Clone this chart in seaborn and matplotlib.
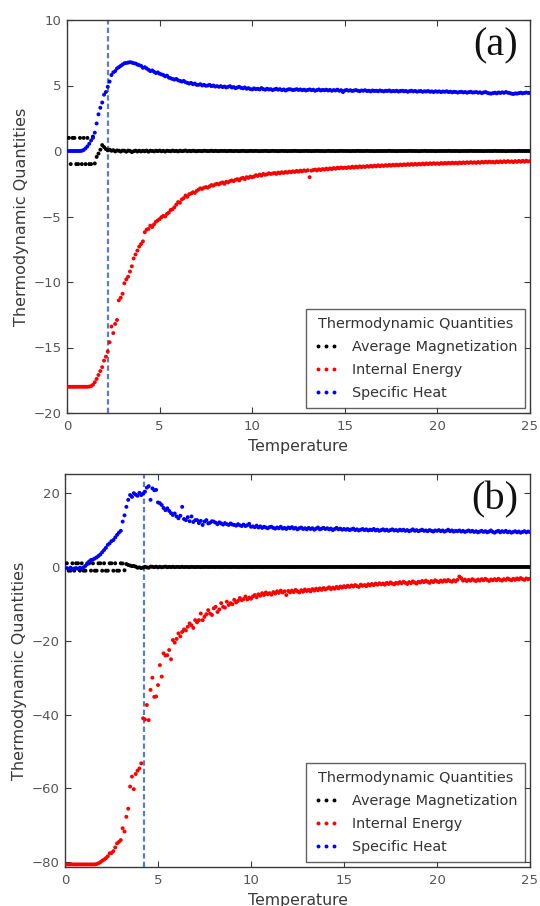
import numpy as np
import pandas as pd
import matplotlib
matplotlib.use("Agg")
import matplotlib.pyplot as plt
from matplotlib.lines import Line2D
import seaborn as sns

# ---------------- data ----------------
# temperature grid used by the simulation (0.1 .. 25.0, step 0.1)
temperature = np.round(np.arange(1, 251) * 0.1, 1)

quantities = ["Average Magnetization", "Internal Energy", "Specific Heat"]
colors = ["black", "red", "blue"]

# Panel (a)
mag_a = [
    1, -1, 1, 1, -1, -1, 1, -1, 1, -1,
    1, -1, -1, 1.1, -0.95, -0.45, -0.2, 0.1, 0.45, 0.3,
    0.15, 0.05, 0.1, 0.02, 0.06, -0.03, 0.04, 0.02, -0.04, 0.03,
    0.02, -0.05, 0.03, 0.01, -0.08, -0.02, 0.03, -0.04, 0.02, -0.03,
    0.01, -0.02, 0.03, -0.05, 0.02, 0.0, -0.03, 0.02, -0.01, 0.03,
    -0.02, 0.01, -0.04, 0.02, 0.0, -0.02, 0.03, -0.01, 0.01, -0.03,
    0.02, -0.01, 0.0, 0.04, -0.02, 0.01, -0.01, 0.02, 0.0, -0.02,
    0.01, 0.0, -0.01, 0.02, 0.01, -0.01, 0.0, 0.02, -0.01, 0.01,
    0.0, -0.01, 0.01, 0.0, 0.01, -0.01, 0.0, 0.01, 0.0, -0.01,
    0.01, 0.0, -0.01, 0.0, 0.01, 0.0, -0.01, 0.0, 0.01, 0.0,
    0.0, 0.01, 0.0, -0.01, 0.0, 0.0, 0.01, 0.0, -0.01, 0.0,
    0.01, 0.0, 0.0, -0.01, 0.0, 0.01, 0.0, 0.0, -0.01, 0.0,
    0.0, 0.0, 0.01, 0.0, 0.0, -0.01, 0.0, 0.0, 0.01, 0.0,
    0.0, -0.01, 0.0, 0.0, 0.01, 0.0, 0.0, 0.0, -0.01, 0.0,
    0.01, 0.0, 0.0, 0.0, -0.01, 0.0, 0.0, 0.01, 0.0, 0.0,
    0.0, 0.0, -0.01, 0.0, 0.0, 0.0, 0.01, 0.0, 0.0, 0.0,
    0.0, 0.01, 0.0, 0.0, 0.0, -0.01, 0.0, 0.0, 0.0, 0.0,
    0.0, 0.0, 0.0, 0.01, 0.0, 0.0, 0.0, -0.01, 0.0, 0.0,
    0.0, 0.0, 0.0, 0.0, 0.01, 0.0, 0.0, 0.0, 0.0, -0.01,
    0.0, 0.0, 0.01, 0.0, 0.0, 0.0, 0.0, 0.0, -0.01, 0.0,
    0.0, 0.0, 0.0, 0.0, 0.0, 0.01, 0.0, 0.0, 0.0, 0.0,
    0.0, -0.01, 0.0, 0.0, 0.0, 0.0, 0.0, 0.01, 0.0, 0.0,
    0.0, 0.0, 0.0, 0.0, -0.01, 0.0, 0.0, 0.0, 0.0, 0.0,
    0.01, 0.0, 0.0, 0.0, 0.0, 0.0, -0.01, 0.0, 0.0, 0.0,
    0.0, 0.0, 0.0, 0.01, 0.0, 0.0, 0.0, 0.0, 0.0, 0.0,
]
energy_a = [
    -18.0, -18.0, -18.0, -18.0, -18.0, -18.0, -18.0, -18.0, -18.0, -18.0,
    -18.0, -17.98, -17.95, -17.85, -17.65, -17.4, -17.1, -16.8, -16.5, -16.0,
    -15.7, -15.3, -14.6, -13.4, -13.9, -13.2, -12.9, -11.4, -11.2, -10.9,
    -10.1, -9.8, -9.6, -9.2, -8.8, -8.2, -7.9, -7.6, -7.3, -7.1,
    -6.9, -6.2, -6.0, -5.95, -5.7, -5.8, -5.6, -5.4, -5.3, -5.2,
    -5.05, -4.95, -5.0, -4.8, -4.7, -4.5, -4.45, -4.3, -4.1, -3.9,
    -3.95, -3.7, -3.6, -3.4, -3.5, -3.3, -3.25, -3.15, -3.2, -3.05,
    -2.95, -2.85, -2.9, -2.8, -2.75, -2.8, -2.7, -2.6, -2.65, -2.55,
    -2.5, -2.55, -2.45, -2.4, -2.5, -2.35, -2.4, -2.3, -2.25, -2.3,
    -2.2, -2.15, -2.25, -2.1, -2.05, -2.15, -2.0, -2.05, -1.95, -2.0,
    -1.95, -1.85, -1.9, -1.8, -1.88, -1.75, -1.82, -1.78, -1.7, -1.75,
    -1.72, -1.68, -1.75, -1.65, -1.7, -1.62, -1.68, -1.6, -1.65, -1.58,
    -1.62, -1.55, -1.6, -1.52, -1.58, -1.5, -1.55, -1.48, -1.52, -1.47,
    -2.0, -1.5, -1.45, -1.42, -1.48, -1.4, -1.45, -1.38, -1.42, -1.35,
    -1.4, -1.33, -1.38, -1.3, -1.35, -1.28, -1.32, -1.26, -1.3, -1.27,
    -1.3, -1.24, -1.28, -1.2, -1.27, -1.19, -1.25, -1.17, -1.23, -1.18,
    -1.22, -1.15, -1.2, -1.13, -1.19, -1.12, -1.17, -1.1, -1.16, -1.1,
    -1.14, -1.08, -1.13, -1.06, -1.12, -1.05, -1.1, -1.04, -1.09, -1.03,
    -1.08, -1.02, -1.07, -1.0, -1.06, -0.99, -1.05, -0.98, -1.04, -0.98,
    -1.03, -0.96, -1.02, -0.95, -1.0, -0.94, -0.99, -0.93, -0.98, -0.94,
    -0.99, -0.92, -0.97, -0.91, -0.96, -0.9, -0.95, -0.89, -0.94, -0.9,
    -0.95, -0.88, -0.93, -0.87, -0.92, -0.86, -0.91, -0.85, -0.9, -0.86,
    -0.91, -0.84, -0.9, -0.83, -0.88, -0.82, -0.87, -0.81, -0.86, -0.83,
    -0.88, -0.8, -0.86, -0.79, -0.85, -0.78, -0.84, -0.77, -0.83, -0.79,
    -0.85, -0.77, -0.83, -0.76, -0.82, -0.75, -0.81, -0.74, -0.8, -0.78,
]
heat_a = [
    0.0, 0.0, 0.0, 0.0, 0.0, 0.0, 0.0, 0.02, 0.08, 0.2,
    0.35, 0.55, 0.8, 1.0, 1.4, 2.1, 2.8, 3.3, 3.7, 4.3,
    4.5, 4.9, 5.3, 5.8, 6.0, 6.1, 6.3, 6.4, 6.5, 6.6,
    6.7, 6.72, 6.75, 6.78, 6.75, 6.7, 6.68, 6.6, 6.55, 6.5,
    6.35, 6.4, 6.3, 6.2, 6.1, 6.15, 6.05, 5.95, 6.0, 5.9,
    5.85, 5.8, 5.7, 5.75, 5.6, 5.55, 5.5, 5.45, 5.5, 5.4,
    5.35, 5.3, 5.35, 5.25, 5.2, 5.15, 5.2, 5.1, 5.15, 5.05,
    5.05, 5.1, 5.0, 5.05, 4.98, 5.0, 5.05, 4.95, 5.0, 4.92,
    4.95, 4.9, 4.95, 4.88, 4.92, 4.85, 4.9, 4.95, 4.85, 4.88,
    4.8, 4.85, 4.9, 4.82, 4.78, 4.85, 4.75, 4.8, 4.72, 4.7,
    4.78, 4.72, 4.75, 4.7, 4.8, 4.72, 4.68, 4.75, 4.7, 4.72,
    4.65, 4.7, 4.75, 4.68, 4.72, 4.65, 4.7, 4.62, 4.68, 4.72,
    4.7, 4.65, 4.68, 4.72, 4.66, 4.7, 4.64, 4.68, 4.62, 4.66,
    4.7, 4.64, 4.68, 4.6, 4.65, 4.7, 4.62, 4.66, 4.64, 4.68,
    4.62, 4.66, 4.6, 4.65, 4.62, 4.68, 4.6, 4.64, 4.5, 4.62,
    4.66, 4.6, 4.64, 4.58, 4.62, 4.65, 4.6, 4.57, 4.62, 4.6,
    4.64, 4.58, 4.6, 4.55, 4.62, 4.58, 4.6, 4.56, 4.62, 4.58,
    4.55, 4.6, 4.58, 4.62, 4.55, 4.58, 4.56, 4.6, 4.54, 4.58,
    4.6, 4.56, 4.58, 4.52, 4.57, 4.6, 4.55, 4.58, 4.53, 4.56,
    4.58, 4.52, 4.56, 4.54, 4.58, 4.52, 4.55, 4.5, 4.56, 4.52,
    4.55, 4.5, 4.54, 4.52, 4.56, 4.5, 4.53, 4.48, 4.52, 4.5,
    4.46, 4.5, 4.52, 4.47, 4.5, 4.45, 4.49, 4.52, 4.46, 4.48,
    4.5, 4.45, 4.48, 4.42, 4.47, 4.5, 4.44, 4.4, 4.38, 4.42,
    4.45, 4.4, 4.47, 4.43, 4.48, 4.44, 4.5, 4.45, 4.42, 4.38,
    4.35, 4.4, 4.38, 4.42, 4.45, 4.4, 4.43, 4.46, 4.44, 4.42,
]

# Panel (b)
mag_b = [
    1, -1, -1, 1, -1, 1, 1, -1, 1, -1,
    -1, 1, 1, -1, 1, -1, -1, 1, 1, -1,
    1, -1, -1, 1, 1, -1, 1, -1, -1, 1,
    0.95, -0.9, 0.8, 0.55, 0.4, 0.25, 0.3, 0.1, -0.2, -0.1,
    -0.3, -0.15, 0.05, -0.1, -0.2, 0.1, 0.05, -0.05, 0.08, -0.1,
    0.05, -0.08, 0.02, 0.1, -0.05, 0.03, -0.02, 0.06, -0.04, 0.02,
    0.0, -0.03, 0.05, -0.02, 0.02, 0.0, -0.04, 0.03, 0.01, -0.02,
    0.01, 0.0, -0.02, 0.01, 0.0, 0.02, -0.01, 0.0, 0.01, -0.01,
    0.0, 0.01, 0.0, -0.01, 0.0, 0.01, 0.0, 0.0, -0.01, 0.0,
    0.01, 0.0, 0.0, -0.01, 0.0, 0.0, 0.01, 0.0, 0.0, -0.01,
    0.0, 0.0, 0.01, 0.0, 0.0, -0.01, 0.0, 0.0, 0.0, 0.01,
    0.0, 0.0, 0.0, -0.01, 0.0, 0.0, 0.0, 0.01, 0.0, 0.0,
    0.0, -0.01, 0.0, 0.0, 0.0, 0.0, 0.01, 0.0, 0.0, 0.0,
    0.0, 0.0, 0.0, 0.01, 0.0, 0.0, 0.0, 0.0, -0.01, 0.0,
    0.0, 0.0, 0.0, 0.0, 0.0, 0.01, 0.0, 0.0, 0.0, 0.0,
    -0.01, 0.0, 0.0, 0.0, 0.0, 0.0, 0.0, 0.01, 0.0, 0.0,
    0.0, 0.0, 0.0, 0.0, -0.01, 0.0, 0.0, 0.0, 0.0, 0.0,
    0.0, 0.01, 0.0, 0.0, 0.0, 0.0, 0.0, 0.0, -0.01, 0.0,
    0.0, 0.0, 0.0, 0.0, 0.0, 0.0, 0.01, 0.0, 0.0, 0.0,
    0.0, 0.0, -0.01, 0.0, 0.0, 0.0, 0.0, 0.0, 0.0, 0.01,
    0.0, 0.0, 0.0, 0.0, 0.0, 0.0, 0.0, -0.01, 0.0, 0.0,
    0.0, 0.0, 0.0, 0.01, 0.0, 0.0, 0.0, 0.0, 0.0, 0.0,
    0.0, -0.01, 0.0, 0.0, 0.0, 0.0, 0.0, 0.0, 0.01, 0.0,
    0.0, 0.0, 0.0, 0.0, 0.0, -0.01, 0.0, 0.0, 0.0, 0.0,
    0.0, 0.0, 0.01, 0.0, 0.0, 0.0, 0.0, 0.0, 0.0, 0.0,
]
energy_b = [
    -80.6, -80.6, -80.6, -80.6, -80.6, -80.6, -80.6, -80.6, -80.6, -80.6,
    -80.6, -80.6, -80.6, -80.6, -80.6, -80.6, -80.5, -80.3, -80.0, -79.6,
    -79.3, -78.9, -78.4, -77.6, -77.5, -77.0, -76.0, -74.9, -74.5, -74.0,
    -70.8, -71.7, -67.7, -65.5, -59.5, -56.8, -60.2, -56.1, -55.2, -54.6,
    -53.2, -41.0, -41.3, -37.4, -41.5, -33.3, -30.0, -35.2, -35.1, -32.0,
    -26.6, -29.7, -23.4, -24.0, -23.9, -22.5, -25.0, -19.8, -20.5, -19.5,
    -18.0, -18.8, -17.6, -16.9, -17.2, -16.2, -15.3, -15.8, -16.5, -14.4,
    -15.0, -14.4, -12.6, -14.4, -13.5, -12.8, -11.7, -12.6, -13.0, -11.2,
    -10.8, -12.2, -11.5, -9.8, -10.8, -11.0, -9.4, -10.3, -9.8, -10.1,
    -8.9, -9.6, -9.2, -8.4, -9.0, -8.7, -8.0, -8.8, -8.3, -8.6,
    -8.0, -7.6, -8.2, -7.4, -7.8, -7.1, -7.6, -6.9, -7.4, -7.1,
    -7.5, -6.8, -7.2, -6.6, -7.0, -6.4, -6.9, -6.6, -7.6, -6.5,
    -6.9, -6.4, -6.8, -6.2, -6.6, -6.9, -6.3, -6.7, -6.1, -6.5,
    -6.2, -6.6, -6.0, -6.4, -5.9, -6.3, -5.8, -6.2, -5.7, -6.1,
    -5.8, -5.5, -6.0, -5.6, -5.9, -5.4, -5.8, -5.3, -5.6, -5.2,
    -5.5, -5.1, -5.4, -5.0, -5.3, -4.9, -5.2, -5.4, -4.8, -5.1,
    -4.9, -5.2, -4.7, -5.0, -4.6, -4.9, -4.5, -4.8, -4.4, -4.7,
    -4.5, -4.8, -4.3, -4.6, -4.2, -4.5, -4.7, -4.3, -4.5, -4.1,
    -4.4, -4.0, -4.3, -4.6, -4.1, -4.4, -3.9, -4.2, -4.5, -4.0,
    -4.2, -3.8, -4.1, -3.7, -4.0, -4.3, -3.8, -4.1, -3.6, -3.9,
    -4.1, -3.7, -4.0, -3.6, -3.9, -3.5, -3.8, -4.0, -3.6, -3.9,
    -3.5, -2.6, -3.0, -3.7, -3.4, -3.8, -3.5, -3.7, -3.3, -3.6,
    -3.8, -3.4, -3.7, -3.3, -3.6, -3.2, -3.5, -3.8, -3.4, -3.6,
    -3.3, -3.6, -3.2, -3.5, -3.7, -3.3, -3.5, -3.1, -3.4, -3.6,
    -3.2, -3.5, -3.1, -3.4, -3.0, -3.3, -3.5, -3.1, -3.3, -3.2,
]
heat_b = [
    -0.3, -0.5, -0.2, -0.6, -0.4, -0.3, -0.5, -0.2, -0.4, -0.1,
    0.3, 0.8, 1.5, 1.9, 2.0, 2.3, 2.6, 3.0, 3.4, 4.0,
    4.6, 5.2, 6.0, 6.4, 7.0, 7.3, 8.0, 8.7, 9.3, 9.8,
    12.3, 14.0, 16.3, 18.2, 19.5, 19.0, 20.0, 19.6, 19.3, 20.1,
    19.5, 19.9, 20.4, 21.5, 21.9, 18.2, 21.3, 20.8, 20.9, 17.5,
    17.3, 16.8, 16.0, 15.4, 15.9, 15.2, 14.6, 14.1, 14.5, 13.7,
    13.2, 13.9, 16.3, 13.0, 12.7, 13.5, 12.4, 13.7, 12.2, 12.7,
    12.7, 11.9, 12.5, 11.4, 12.3, 12.7, 11.8, 12.0, 12.4, 12.3,
    12.0, 11.6, 12.1, 11.8, 11.5, 11.9, 11.6, 11.4, 11.8, 11.5,
    11.4, 11.2, 11.6, 11.3, 11.1, 11.5, 11.1, 11.3, 11.7, 10.9,
    11.0, 10.8, 11.2, 10.7, 11.0, 10.6, 10.9, 10.7, 10.5, 10.8,
    10.9, 10.6, 10.4, 10.7, 10.5, 10.9, 10.4, 10.6, 10.3, 10.7,
    10.5, 10.8, 10.4, 10.6, 10.2, 10.5, 10.7, 10.3, 10.5, 10.2,
    10.6, 10.3, 10.5, 10.1, 10.4, 10.7, 10.2, 10.4, 10.6, 10.3,
    10.5, 10.2, 10.4, 10.0, 10.3, 10.6, 10.2, 10.4, 10.1, 10.3,
    10.1, 10.3, 10.0, 10.2, 10.4, 10.0, 10.2, 9.9, 10.1, 10.3,
    10.0, 10.2, 9.9, 10.1, 10.0, 10.3, 9.9, 10.1, 9.8, 10.0,
    10.2, 9.9, 10.1, 9.8, 10.0, 10.2, 9.9, 10.0, 9.8, 10.1,
    9.9, 10.1, 9.8, 10.0, 9.7, 9.9, 10.2, 9.8, 10.0, 9.7,
    9.9, 10.1, 9.8, 9.9, 9.7, 10.0, 9.8, 9.6, 9.9, 9.8,
    10.0, 9.7, 9.9, 9.6, 9.8, 10.1, 9.7, 9.9, 9.6, 9.8,
    9.7, 9.9, 9.6, 9.8, 9.5, 9.7, 9.9, 9.6, 9.8, 9.5,
    9.7, 9.4, 9.6, 9.8, 9.5, 9.7, 9.4, 9.6, 9.9, 9.5,
    9.3, 9.6, 9.8, 9.4, 9.7, 9.5, 9.8, 9.4, 9.6, 9.3,
    9.5, 9.7, 9.4, 9.6, 9.3, 9.5, 9.7, 9.4, 9.6, 9.5,
]

critical_temps = [2.23, 4.25]
panel_labels = ["(a)", "(b)"]
y_limits = [(-20, 10), (-81.3, 25.2)]
y_ticks = [[-20, -15, -10, -5, 0, 5, 10], [-80, -60, -40, -20, 0, 20]]
x_ticks = [0, 5, 10, 15, 20, 25]

# ---------------- style ----------------
sns.set_style("ticks")
plt.rcParams.update({
    "font.family": ["DejaVu Sans"],
    "axes.edgecolor": "#3a3a3a",
    "axes.linewidth": 1.0,
    "xtick.direction": "in",
    "ytick.direction": "in",
    "xtick.top": True,
    "ytick.right": True,
    "xtick.color": "#3a3a3a",
    "ytick.color": "#3a3a3a",
    "xtick.labelcolor": "#555555",
    "ytick.labelcolor": "#555555",
    "xtick.major.size": 4,
    "ytick.major.size": 4,
    "axes.labelcolor": "#3a3a3a",
})

fig = plt.figure(figsize=(5.4, 9.06), dpi=100)
ax_a = fig.add_axes([67 / 540, 1 - 413 / 906, 463 / 540, 393 / 906])
ax_b = fig.add_axes([65 / 540, 1 - 867 / 906, 465 / 540, 393 / 906])

panels = [
    (ax_a, [mag_a, energy_a, heat_a]),
    (ax_b, [mag_b, energy_b, heat_b]),
]

palette = dict(zip(quantities, colors))

for i, (ax, series) in enumerate(panels):
    frames = []
    for name, vals in zip(quantities, series):
        frames.append(pd.DataFrame({"Temperature": temperature,
                                    "value": vals,
                                    "quantity": name}))
    df = pd.concat(frames, ignore_index=True)
    sns.scatterplot(data=df, x="Temperature", y="value", hue="quantity",
                    hue_order=quantities, palette=palette, s=8,
                    linewidth=0, legend=False, ax=ax, zorder=3)
    ax.axvline(critical_temps[i], color="#5a7fbe", lw=1.6,
               linestyle=(0, (2.4, 1.4)), zorder=2)
    ax.set_xlim(0, 25)
    ax.set_ylim(*y_limits[i])
    ax.set_xticks(x_ticks)
    ax.set_yticks(y_ticks[i])
    ax.tick_params(axis="x", labelsize=9.5, pad=5)
    ax.tick_params(axis="y", labelsize=9.5, pad=4)
    ax.set_xlabel("Temperature", fontsize=11.3, labelpad=4)
    ax.set_ylabel("Thermodynamic Quantities", fontsize=11.5, labelpad=3)
    for sp in ax.spines.values():
        sp.set_visible(True)
    ax.text(0.925, 0.935, panel_labels[i], transform=ax.transAxes,
            fontsize=29, family="Liberation Serif", ha="center",
            va="center", color="#111111")
    handles = [Line2D([], [], linestyle="", marker="o", markersize=2.8,
                      markeredgewidth=0, color=c) for c in colors]
    leg = ax.legend(handles, quantities, title="Thermodynamic Quantities",
                    loc="lower right", numpoints=3, fontsize=10.4,
                    title_fontsize=10.4, frameon=True, fancybox=False,
                    borderaxespad=0.35, handlelength=1.7, handletextpad=0.9,
                    labelspacing=0.62, borderpad=0.55)
    leg.get_frame().set_edgecolor("#3a3a3a")
    leg.get_frame().set_linewidth(1.0)
    for t in leg.get_texts():
        t.set_color("#333333")
    leg.get_title().set_color("#333333")

fig.savefig("out.png", dpi=100)
